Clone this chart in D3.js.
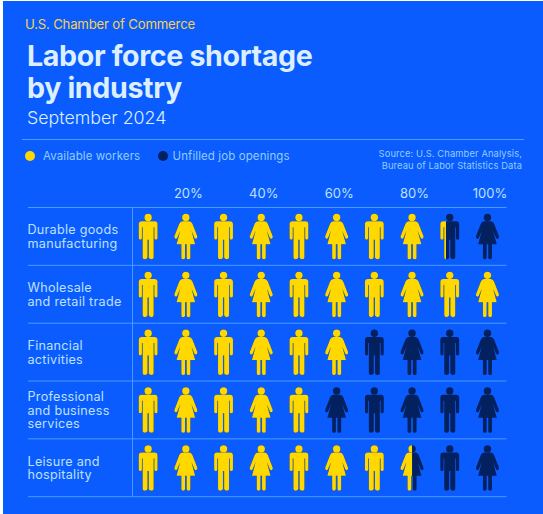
<!DOCTYPE html>
<html>
<head>
<meta charset="utf-8">
<style>
  html, body { margin: 0; padding: 0; background: #fff; }
  svg { display: block; }
  text { font-family: Inter, "Liberation Sans", sans-serif; }
</style>
</head>
<body>
<svg id="chart" width="543" height="514"></svg>
<script src="https://cdn.jsdelivr.net/npm/d3@7"></script>
<script>
// Labor force shortage: share of openings that available workers could fill
const industries = [
  ["Durable goods", "manufacturing"],
  ["Wholesale", "and retail trade"],
  ["Financial", "activities"],
  ["Professional", "and business", "services"],
  ["Leisure and", "hospitality"]
];
const availableShare = [83, 100, 60, 50, 75];
const tickValues = [20, 40, 60, 80, 100];
const iconSlots = d3.range(10);
const legendLabels = ["Available workers", "Unfilled job openings"];
const sourceLines = ["Source: U.S. Chamber Analysis,", "Bureau of Labor Statistics Data"];

const BLUE = "#0a5cff", YELLOW = "#ffd800", NAVY = "#04215f",
      RULE = "#4a9bff", PALE = "#dcefff", LABEL = "#bfe0ff", SOFT = "#93ccff";

// Pictogram outlines, drawn around the centre of the icon
const manBody = "M-6.6,-15.5H6.6Q9.4,-15.5 9.4,-12.6V1.4Q9.4,3 7.8,3Q6.2,3 6.2,1.4V-9.5H5.5V20.8Q5.5,22.6 3.4,22.6Q1,22.6 0.6,20.8V3H-0.6V20.8Q-1,22.6 -3.4,22.6Q-5.5,22.6 -5.5,20.8V-9.5H-6.2V1.4Q-6.2,3 -7.8,3Q-9.4,3 -9.4,1.4V-12.6Q-9.4,-15.5 -6.6,-15.5Z";
const womanBody = "M-3.5,-15.5H3.5Q5.6,-15.5 6.6,-13L11.4,-0.6Q11.9,1.4 10.4,2Q9,2.4 8.5,1L5.6,-6L9.3,7.6H4.5V21Q4.5,22.6 2.7,22.6Q0.9,22.6 0.8,21V7.6H-0.8V21Q-0.9,22.6 -2.7,22.6Q-4.5,22.6 -4.5,21V7.6H-9.3L-5.6,-6L-8.5,1Q-9,2.4 -10.4,2Q-11.9,1.4 -11.4,-0.6L-6.6,-13Q-5.6,-15.5 -3.5,-15.5Z";
const headY = -19.2, headR = 3.7;
const halfWidth = [9.4, 11.7];   // man, woman

const svg = d3.select("#chart");
svg.append("rect").attr("x", 3).attr("y", 1).attr("width", 540).attr("height", 513).attr("fill", BLUE);

// Header
const addText = (x, y, s, size, fill, weight, spacing) => svg.append("text")
  .attr("x", x).attr("y", y).text(s)
  .attr("font-size", size).attr("fill", fill)
  .attr("font-weight", weight || 400)
  .attr("letter-spacing", spacing || 0);

addText(25, 29, "U.S. Chamber of Commerce", 13.2, "#f6d34a", 400, -0.2);
addText(27, 65.5, "Labor force shortage", 28.6, PALE, 700, -0.35);
addText(27, 97.5, "by industry", 28.6, PALE, 700, -0.35);
addText(27, 124, "September 2024", 17.8, PALE, 300, 0);
svg.append("line").attr("x1", 22).attr("x2", 524).attr("y1", 139.5).attr("y2", 139.5)
  .attr("stroke", RULE).attr("stroke-width", 1);

// Legend
[[30, YELLOW, 43], [163, NAVY, 172.5]].forEach(([cx, color, tx], i) => {
  svg.append("circle").attr("cx", cx).attr("cy", 156).attr("r", 5).attr("fill", color);
  addText(tx, 160, legendLabels[i], 11.5, SOFT, 400, 0.1);
});
sourceLines.forEach((s, i) => {
  addText(522, 157 + i * 12, s, 9.4, SOFT, 400, 0.1).attr("text-anchor", "end");
});

// Scales
const x = d3.scaleLinear().domain([0, 100]).range([129.3, 506.3]);
const y = d3.scaleBand().domain(d3.range(industries.length)).range([207.5, 496.7]);

// Percent axis above the grid
svg.append("g").selectAll("text").data(tickValues).join("text")
  .attr("x", d => x(d - 5) + 2.5)
  .attr("y", 198)
  .attr("text-anchor", "middle")
  .attr("font-size", 13)
  .attr("fill", LABEL)
  .text(d => d + "%");

// Grid rules
svg.append("g").selectAll("line").data(d3.range(industries.length + 1)).join("line")
  .attr("x1", 28).attr("x2", 506.5)
  .attr("y1", i => 207.5 + i * y.bandwidth())
  .attr("y2", i => 207.5 + i * y.bandwidth())
  .attr("stroke", RULE).attr("stroke-width", 1);
svg.append("line").attr("x1", 132.5).attr("x2", 132.5)
  .attr("y1", y.range()[0]).attr("y2", y.range()[1])
  .attr("stroke", RULE).attr("stroke-width", 1);

// Row labels
industries.forEach((lines, r) => {
  const mid = y(r) + y.bandwidth() / 2;
  lines.forEach((s, i) => {
    addText(27.5, mid + (i - (lines.length - 1) / 2) * 13.6 + 4.6, s, 12.6, LABEL, 400, 0.28);
  });
});

// Icon drawing: navy base with a clipped yellow layer over it
const defs = svg.append("defs");
function drawIcon(group, gender, color) {
  group.append("circle").attr("cy", headY).attr("r", headR).attr("fill", color);
  group.append("path").attr("d", gender === 0 ? manBody : womanBody).attr("fill", color);
}

industries.forEach((_, r) => {
  const cy = y(r) + y.bandwidth() / 2 + 0.3;
  iconSlots.forEach(slot => {
    const gender = slot % 2;
    const cx = (x(slot * 10) + x((slot + 1) * 10)) / 2;
    const icon = svg.append("g").attr("transform", `translate(${cx},${cy})`);
    const hw = halfWidth[gender];
    // Within a slot the value runs across the width of the figure
    const local = d3.scaleLinear().domain([slot * 10, (slot + 1) * 10]).range([-hw, hw]).clamp(true);
    const edge = local(availableShare[r]);

    drawIcon(icon, gender, NAVY);
    if (edge > -hw) {
      const id = `fill-${r}-${slot}`;
      defs.append("clipPath").attr("id", id).append("rect")
        .attr("x", -hw - 1).attr("y", -30).attr("width", edge + hw + (edge >= hw ? 2 : 1)).attr("height", 60);
      drawIcon(icon.append("g").attr("clip-path", `url(#${id})`), gender, YELLOW);
    }
  });
});
</script>
</body>
</html>
